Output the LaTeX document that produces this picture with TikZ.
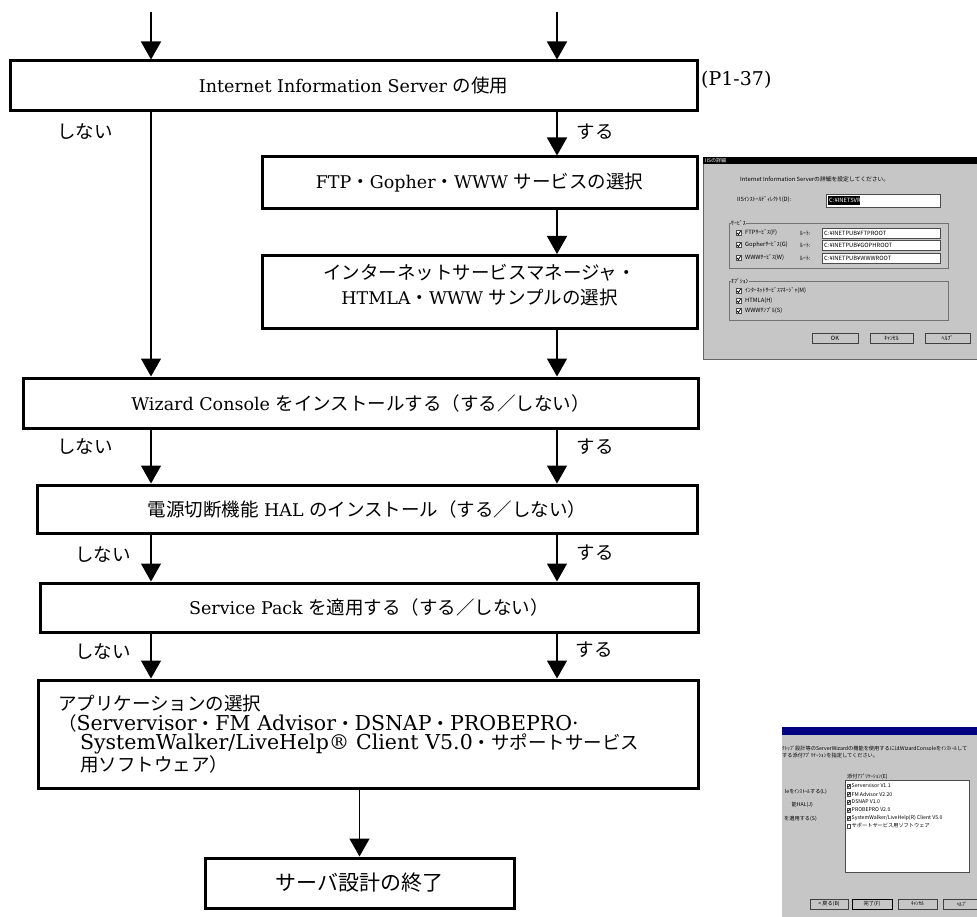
\documentclass[tikz,border=0pt]{standalone}
\usepackage{fontspec}
\usepackage{tikz}
\usetikzlibrary{arrows.meta}
\setmainfont{DejaVu Serif}
\newfontfamily\jpfont{Noto Sans CJK JP}
\newcommand{\jp}[1]{{\jpfont\fontsize{18.5}{22}\selectfont #1}}
\definecolor{winbg}{RGB}{198,198,198}
\definecolor{winttl}{RGB}{0,0,128}
\lineskiplimit=-20pt

\begin{document}
\begin{tikzpicture}[x=1pt, y=-1pt,
    box/.style={draw, line width=3pt, inner sep=0pt, align=center, font=\fontsize{17.5}{22}\selectfont},
    lbl/.style={inner sep=0pt, font=\jpfont\fontsize{18.5}{22}\selectfont},
    arr/.style={-{Triangle[width=20pt,length=18pt]}, line width=1.5pt},
    ui/.style={inner sep=0pt, anchor=west, font=\jpfont\fontsize{5.8}{6}\selectfont},
    uis/.style={inner sep=0pt, anchor=west, font=\jpfont\fontsize{5.2}{5.5}\selectfont},
    chk/.style={draw=black!70, fill=white, line width=0.4pt},
    btn/.style={draw=black!75, fill=winbg, line width=0.5pt}]
    \useasboundingbox (0,0) rectangle (977,917);

    \coordinate (cl) at (151,12);
    \coordinate (cr) at (557,12);

    \node[box, minimum width=687pt, minimum height=50pt] at (353.5,86) (iis) {Internet Information Server \jp{の使用}};
    \node[box, minimum width=435pt, minimum height=52pt] at (479.5,183) (ftp) {FTP\jp{・}Gopher\jp{・}WWW \jp{サービスの選択}};
    \node[box, minimum width=435pt, minimum height=73pt] at (479.5,292) (mgr) {};
    \node[align=center, inner sep=0pt, font=\fontsize{17.5}{25}\selectfont] at (479.5,285) (mgrtext) {\jp{インターネットサービスマネージャ・}\\HTMLA\jp{・}WWW \jp{サンプルの選択}};
    \node[box, minimum width=675pt, minimum height=50pt] at (360.5,403) (wiz) {Wizard Console \jp{をインストールする（する／しない）}};
    \node[box, minimum width=660pt, minimum height=48pt] at (367,509) (hal) {\jp{電源切断機能} HAL \jp{のインストール（する／しない）}};
    \node[box, minimum width=658pt, minimum height=49pt] at (369,607.5) (sp) {Service Pack \jp{を適用する（する／しない）}};
    \node[box, minimum height=108pt, text width=620pt, inner xsep=20pt, align=left, font=\fontsize{20.5}{19.5}\selectfont] at (368,734) (app) {\jp{アプリケーションの選択}\\\jp{（}Servervisor\jp{・}FM Advisor\jp{・}DSNAP\jp{・}PROBEPRO·\\\hspace*{22pt}SystemWalker/LiveHelp® Client V5.0\jp{・サポートサービス}\\\hspace*{22pt}\jp{用ソフトウェア）}};
    \node[box, minimum width=309pt, minimum height=50pt, font=\jpfont\fontsize{21}{24}\selectfont] at (359.5,883) (fin) {サーバ設計の終了};

    \node[anchor=west, inner sep=0pt, font=\fontsize{19}{22}\selectfont] at (701,80) (page) {(P1-37)};

    \node[lbl] at (85,132) (no1) {しない};
    \node[lbl] at (595,132) (yes1) {する};
    \node[lbl] at (85,447) (no2) {しない};
    \node[lbl] at (595,447) (yes2) {する};
    \node[lbl] at (103,555) (no3) {しない};
    \node[lbl] at (595,553) (yes3) {する};
    \node[lbl] at (103,652) (no4) {しない};
    \node[lbl] at (594,650) (yes4) {する};

    \draw[arr] (cl) -- (cl |- iis.north);
    \draw[arr] (cr) -- (cr |- iis.north);
    \draw[arr] (iis.south -| cl) -- (wiz.north -| cl);
    \draw[arr] (iis.south -| cr) -- (ftp.north -| cr);
    \draw[arr] (ftp.south -| cr) -- (mgr.north -| cr);
    \draw[arr] (mgr.south -| cr) -- (wiz.north -| cr);
    \draw[arr] (wiz.south -| cl) -- (hal.north -| cl);
    \draw[arr] (wiz.south -| cr) -- (hal.north -| cr);
    \draw[arr] (hal.south -| cl) -- (sp.north -| cl);
    \draw[arr] (hal.south -| cr) -- (sp.north -| cr);
    \draw[arr] (sp.south -| cl) -- (app.north -| cl);
    \draw[arr] (sp.south -| cr) -- (app.north -| cr);
    \draw[arr] (app.south -| fin.north) -- (fin.north);

    \begin{scope}[shift={(703,157)}]
        \fill[winbg] (0,0) rectangle (274,202);
        \draw[black!60] (274,202) -- (0,202) -- (0,0) -- (274,0);
        \fill[black] (0,0) rectangle (274,7);
        \node[ui, white, font=\jpfont\fontsize{5}{5}\selectfont] at (2,3.5) (iistitle) {IISの詳細};
        \node[ui] at (37,22) (iismsg) {Internet Information Serverの詳細を設定してください。};
        \node[ui] at (34,43) (iisdir) {IISｲﾝｽﾄｰﾙﾃﾞｨﾚｸﾄﾘ(D):};
        \draw[chk] (123,37) rectangle (237,50);
        \fill[black] (125,39) rectangle (157,48);
        \node[ui, white] at (126,43.5) (iispath) {C:¥INETSVR};
        \draw[black!55] (26,66) rectangle (245,111);
        \node[ui, fill=winbg] at (28,66) (grpsvc) {ｻｰﾋﾞｽ};
        \foreach \y/\s/\p [count=\i] in {76/FTPｻｰﾋﾞｽ(F)/FTPROOT, 88/Gopherｻｰﾋﾞｽ(G)/GOPHROOT, 101/WWWｻｰﾋﾞｽ(W)/WWWROOT} {
            \draw[chk] (33,\y-2.5) rectangle ++(5,5);
            \draw[line width=0.8pt] (34,\y) -- (35.5,\y+1.5) -- (37.5,\y-1.8);
            \node[ui] at (42,\y) (svcitem\i) {\s};
            \node[ui] at (97,\y) (root\i) {ﾙｰﾄ:};
            \draw[chk] (119,\y-5) rectangle (237,\y+5);
            \node[ui] at (121,\y) (path\i) {C:¥INETPUB¥\p};
        }
        \draw[black!55] (26,124) rectangle (245,163);
        \node[ui, fill=winbg] at (28,124) (grpopt) {ｵﾌﾟｼｮﾝ};
        \foreach \y/\s [count=\i] in {134/ｲﾝﾀｰﾈｯﾄｻｰﾋﾞｽﾏﾈｰｼﾞｬ(M), 144/HTMLA(H), 154/WWWｻﾝﾌﾟﾙ(S)} {
            \draw[chk] (33,\y-2.5) rectangle ++(5,5);
            \draw[line width=0.8pt] (34,\y) -- (35.5,\y+1.5) -- (37.5,\y-1.8);
            \node[ui] at (42,\y) (optitem\i) {\s};
        }
        \foreach \a/\b/\s [count=\i] in {109/155/OK, 167/210/ｷｬﾝｾﾙ, 222/267/ﾍﾙﾌﾟ} {
            \draw[btn] (\a,176) rectangle (\b,186);
            \node[ui, anchor=center] at ({(\a+\b)/2},181) (iisbtn\i) {\s};
        }
    \end{scope}

    \begin{scope}[shift={(780,727)}]
        \clip (2,0) rectangle (197,190);
        \fill[winbg] (0,0) rectangle (197,190);
        \fill[winttl] (0,0) rectangle (197,8);
        \node[uis] at (2,22) (msg1) {ｸﾄｯﾌﾟ設計等のServerWizardの機能を使用するにはWizardConsoleをｲﾝｽﾄｰﾙして};
        \node[uis] at (2,28.5) (msg2) {する添付ｱﾌﾟﾘｹｰｼｮﾝを指定してください。};
        \node[uis, anchor=east] at (47,65) (left1) {leをｲﾝｽﾄｰﾙする(L)};
        \node[uis, anchor=east] at (33,78) (left2) {能HAL(J)};
        \node[uis, anchor=east] at (37,92) (left3) {を適用する(S)};
        \node[uis] at (67,50) (applbl) {添付ｱﾌﾟﾘｹｰｼｮﾝ(E)};
        \draw[chk] (65,53) rectangle (189,145);
        \foreach \s [count=\i] in {Servervisor V1.1, FM Advisor V2.20, DSNAP V1.0, PROBEPRO V2.0, SystemWalker/LiveHelp(R) Client V5.0} {
            \draw[chk] (67,51+8*\i-1.8) rectangle ++(3.6,3.6);
            \draw[line width=0.6pt] (67.6,51+8*\i) -- (68.6,51+8*\i+1.1) -- (70.2,51+8*\i-1.4);
            \node[uis] at (71.5,51+8*\i) (appitem\i) {\s};
        }
        \draw[chk] (67,97.2) rectangle ++(3.6,3.6);
        \node[uis] at (71.5,99) (appitem6) {サポートサービス用ソフトウェア};
        \foreach \a/\b/\s [count=\i] in {30/68/< 戻る(B), 72/112/完了(F), 118/157/ｷｬﾝｾﾙ, 163/201/ﾍﾙﾌﾟ} {
            \draw[btn] (\a,172) rectangle (\b,182);
            \node[uis, anchor=center] at ({(\a+\b)/2},177) (appbtn\i) {\s};
        }
        \draw[line width=0.8pt] (72,172) rectangle (112,182);
    \end{scope}
\end{tikzpicture}
\end{document}
